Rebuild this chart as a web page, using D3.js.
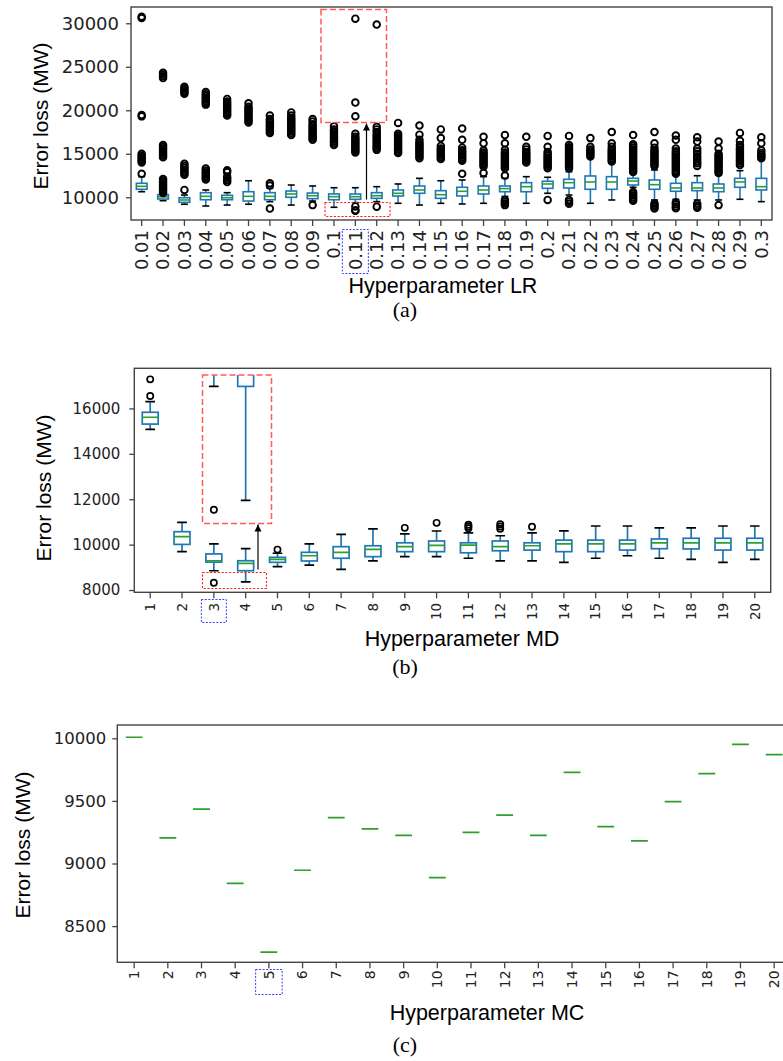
<!DOCTYPE html>
<html>
<head>
<meta charset="utf-8">
<script src="https://cdn.jsdelivr.net/npm/d3@7"></script>
<style>
  body { margin: 0; background: #fff; }
</style>
</head>
<body>
<div id="chart"></div>
<script>
var W = 783, H = 1061;
var BLUE = "#1f77b4", GREEN = "#2ca02c";
var TICK_FONT = "'DejaVu Sans', sans-serif",
    LABEL_FONT = "'Liberation Sans', Arial, sans-serif",
    CAPTION_FONT = "'Liberation Serif', 'Times New Roman', serif";

// ---- (a) learning rate ----
var lrCats = ["0.01","0.02","0.03","0.04","0.05","0.06","0.07","0.08","0.09","0.1",
              "0.11","0.12","0.13","0.14","0.15","0.16","0.17","0.18","0.19","0.2",
              "0.21","0.22","0.23","0.24","0.25","0.26","0.27","0.28","0.29","0.3"];
var lrLo  = [10640, 9610, 9200, 9000, 9110, 9200, 9500, 9110, 9570, 8850, 9380, 9500, 9310, 9110, 9310,
             9230, 9310, 10100, 9310, 10460, 10260, 9310, 9690, 11150, 9690, 9770, 9690, 9690, 9770, 9500];
var lrQ1  = [10920, 9800, 9420, 9720, 9720, 9570, 9720, 10000, 9840, 9720, 9770, 9880, 10150, 10460, 9880,
             10150, 10380, 10640, 10640, 11030, 11070, 10920, 10920, 11410, 10920, 10690, 10760, 10640, 11150, 10840];
var lrMed = [11260, 10050, 9690, 10110, 9950, 10110, 10110, 10380, 10180, 10070, 10070, 10180, 10460, 10840, 10300,
             10690, 10840, 11000, 11220, 11530, 11680, 11760, 11760, 11870, 11450, 11070, 11070, 11070, 11760, 11220];
var lrQ3  = [11610, 10300, 9950, 10530, 10230, 10640, 10530, 10720, 10490, 10380, 10380, 10530, 10840, 11300, 10760,
             11150, 11300, 11300, 11680, 11840, 12070, 12450, 12370, 12180, 11990, 11610, 11680, 11530, 12180, 12180];
var lrHi  = [12370, 10350, 10260, 10840, 10530, 11900, 11030, 11410, 11300, 11100, 11100, 11220, 11530, 12180, 11900,
             11990, 12370, 12180, 12370, 12300, 12940, 14500, 13910, 12760, 13140, 12600, 12480, 12560, 13060, 14290];
var lrOut = [
  [12700, 14000, 14200, 14400, 14600, 14800, 15000, 19300, 19450, 30600, 30750],
  [10500, 10700, 10900, 11100, 11300, 11500, 11700, 11900, 12100, 14600, 14800, 15000, 15200, 15400, 15600, 15800, 16000, 23700, 23900, 24100, 24300],
  [10850, 12600, 12800, 13000, 13200, 13400, 13600, 13850, 21900, 22100, 22300, 22500, 22700],
  [12050, 12250, 12450, 12650, 12850, 13050, 13300, 20650, 20850, 21050, 21250, 21450, 21650, 21850, 22100],
  [11750, 11950, 12150, 12350, 12900, 13100, 19400, 19600, 19800, 20000, 20200, 20400, 20600, 20800, 21000, 21300],
  [18600, 18800, 19000, 19200, 19400, 19600, 19800, 20000, 20200, 20400, 20800],
  [8700, 11350, 11600, 17400, 17600, 17800, 18000, 18200, 18400, 18600, 18800, 19000, 19400],
  [17150, 17350, 17550, 17750, 17950, 18150, 18350, 18550, 18750, 18950, 19150, 19400, 19750],
  [9100, 16600, 16800, 17000, 17200, 17400, 17600, 17800, 18000, 18200, 18400, 18700, 19000],
  [16000, 16200, 16400, 16600, 16800, 17000, 17200, 17400, 17600, 17800, 18150],
  [8450, 8520, 8950, 15150, 15350, 15550, 15750, 15950, 16150, 16350, 16550, 16750, 16950, 17300],
  [8920, 15450, 15650, 15850, 16050, 16250, 16450, 16650, 16850, 17050, 17250, 17500, 17800, 18100],
  [15100, 15300, 15500, 15700, 15900, 16100, 16300, 16500, 16700, 16900, 17100, 17300, 18550],
  [14500, 14700, 14900, 15100, 15300, 15500, 15700, 15900, 16100, 16300, 16600, 17200, 18250],
  [14400, 14600, 14800, 15000, 15200, 15400, 15600, 15900, 16800, 17800],
  [12700, 14200, 14400, 14600, 14800, 15000, 15200, 15400, 15700, 16600, 17900],
  [12800, 13550, 13750, 13950, 14150, 14350, 14550, 14750, 14950, 15150, 15400, 16200, 16950],
  [9100, 9300, 9500, 9700, 12500, 13350, 13550, 13750, 13950, 14150, 14350, 14550, 14750, 14950, 15150, 15450, 16200, 17150],
  [14000, 14200, 14400, 14600, 14800, 15000, 15200, 15500, 15800, 16950],
  [9700, 13350, 13550, 13750, 13950, 14150, 14350, 14550, 14750, 14950, 15200, 15800, 17050],
  [9250, 9500, 9700, 13350, 13550, 13750, 13950, 14150, 14350, 14550, 14750, 14950, 15150, 15350, 15550, 15750, 16000, 17050],
  [14700, 14900, 15100, 15300, 15500, 15800, 16800],
  [14100, 14300, 14500, 14700, 14900, 15100, 15300, 15500, 15800, 16200, 17500],
  [9600, 9800, 10000, 10200, 10400, 10600, 12900, 13100, 13300, 13500, 13700, 13900, 14100, 14300, 14500, 14700, 14900, 15100, 15300, 15500, 15700, 15900, 16100, 17150],
  [8700, 8900, 9100, 9300, 13600, 13800, 14000, 14200, 14400, 14600, 14800, 15000, 15200, 15400, 15700, 16200, 17500],
  [8750, 8950, 9200, 9400, 12700, 12900, 13100, 13300, 13500, 13700, 13900, 14100, 14300, 14500, 14700, 14900, 15100, 15300, 15600, 16600, 17100],
  [8800, 9000, 9250, 13600, 13900, 14100, 14400, 14700, 15000, 15300, 15600, 16400, 16900],
  [9100, 12800, 13000, 13200, 13400, 13600, 13800, 14000, 14200, 14400, 14600, 14800, 15000, 15600, 16400],
  [13700, 13900, 14100, 14300, 14500, 14700, 14900, 15100, 15300, 15500, 15700, 16000, 16500, 17400],
  [14500, 14700, 14900, 15100, 15400, 16200, 16900]
];
var lrTicks = [10000, 15000, 20000, 25000, 30000];
var lrZoomDomain = [8418, 8997];

// ---- (b) max depth ----
var mdCats = ["1","2","3","4","5","6","7","8","9","10","11","12","13","14","15","16","17","18","19","20"];
var mdLo  = [15080, 9690, 8850, 8360, 9030, 9100, 8910, 9280, 9470, 9470, 9400, 9280, 9280, 9220, 9400, 9510, 9400, 9350, 9220, 9350];
var mdQ1  = [15310, 10010, 9230, 8850, 9220, 9280, 9400, 9470, 9690, 9690, 9640, 9730, 9760, 9690, 9690, 9760, 9820, 9810, 9760, 9760];
var mdMed = [15610, 10350, 9290, 9175, 9350, 9510, 9660, 9790, 9910, 9970, 9980, 9910, 9950, 10030, 10030, 10030, 10080, 10080, 10080, 10080];
var mdQ3  = [15830, 10570, 9590, 9290, 9440, 9660, 9910, 9950, 10080, 10160, 10080, 10160, 10080, 10200, 10200, 10200, 10250, 10280, 10280, 10280];
var mdHi  = [16300, 10980, 10030, 9820, 9620, 10030, 10450, 10690, 10470, 10600, 10520, 10390, 10520, 10610, 10820, 10820, 10740, 10740, 10820, 10820];
var mdOut = [[16550, 17280], [], [8320], [], [9780], [], [], [], [10740], [10960], [10720, 10800, 10880],
             [10700, 10800, 10900], [10790], [], [], [], [], [], [], []];
var mdTicks = [8000, 10000, 12000, 14000, 16000];
var mdZoomDomain = [8261, 8899];

// ---- (c) min child ----
var mcCats = ["1","2","3","4","5","6","7","8","9","10","11","12","13","14","15","16","17","18","19","20"];
var mcMed = [10008, 9204, 9435, 8842, 8293, 8946, 9366, 9276, 9225, 8887, 9249, 9387, 9225, 9728, 9294, 9180, 9494, 9717, 9952, 9869];
var mcTicks = [8500, 9000, 9500, 10000];

function zipStats(cats, lo, q1, med, q3, hi, out) {
  return cats.map(function(c, i) {
    return {cat: c, lo: lo[i], q1: q1[i], med: med[i], q3: q3[i], hi: hi[i], out: out[i]};
  });
}

var svg = d3.select("#chart").append("svg")
  .attr("width", W).attr("height", H)
  .style("display", "block");

var defs = svg.append("defs");
defs.append("marker").attr("id", "arrow")
  .attr("viewBox", "0 0 10 10").attr("refX", 10).attr("refY", 5)
  .attr("markerWidth", 7).attr("markerHeight", 8).attr("markerUnits", "userSpaceOnUse")
  .attr("orient", "auto")
  .append("path").attr("d", "M0,0L10,5L0,10z").attr("fill", "#000");

function drawBoxes(g, x, y, data, st, fliersOnly) {
  var bw = x.bandwidth() * 0.5, cw = bw / 2;
  var b = g.selectAll(null).data(data).enter().append("g")
    .attr("transform", function(d) { return "translate(" + (x(d.cat) + x.bandwidth() / 2) + ",0)"; });
  if (!fliersOnly) {
    var wh = b.filter(function(d) { return d.hi > d.q3 || d.lo < d.q1; });
    wh.append("line").attr("y1", function(d) { return y(d.q1); }).attr("y2", function(d) { return y(d.lo); })
      .attr("stroke", BLUE).attr("stroke-width", st.lw);
    wh.append("line").attr("y1", function(d) { return y(d.q3); }).attr("y2", function(d) { return y(d.hi); })
      .attr("stroke", BLUE).attr("stroke-width", st.lw);
    ["lo", "hi"].forEach(function(k) {
      wh.append("line")
        .attr("x1", -cw / 2).attr("x2", cw / 2)
        .attr("y1", function(d) { return y(d[k]); }).attr("y2", function(d) { return y(d[k]); })
        .attr("stroke", "#000").attr("stroke-width", st.lw).attr("stroke-linecap", "square");
    });
    b.append("rect")
      .attr("x", -bw / 2).attr("width", bw)
      .attr("y", function(d) { return y(d.q3); })
      .attr("height", function(d) { return Math.max(0, y(d.q1) - y(d.q3)); })
      .attr("fill", "none").attr("stroke", BLUE).attr("stroke-width", st.lw);
    b.append("line")
      .attr("x1", -bw / 2).attr("x2", bw / 2)
      .attr("y1", function(d) { return y(d.med); }).attr("y2", function(d) { return y(d.med); })
      .attr("stroke", GREEN).attr("stroke-width", st.lw);
  }
  b.selectAll("circle").data(function(d) { return d.out; }).enter().append("circle")
    .attr("cx", 0).attr("cy", function(v) { return y(v); }).attr("r", st.r)
    .attr("fill", "none").attr("stroke", "#000").attr("stroke-width", st.cw);
}

function panel(cfg) {
  var g = svg.append("g");
  var x = d3.scaleBand().domain(cfg.cats).range([cfg.left, cfg.right]);
  var y = d3.scaleLinear().domain(cfg.domain).range([cfg.bottom, cfg.top]);

  defs.append("clipPath").attr("id", "clip" + cfg.id).append("rect")
    .attr("x", cfg.left).attr("y", cfg.top)
    .attr("width", cfg.right - cfg.left).attr("height", cfg.bottom - cfg.top);
  var plot = g.append("g").attr("clip-path", "url(#clip" + cfg.id + ")");
  drawBoxes(plot, x, y, cfg.data, cfg.st, false);

  g.append("rect")
    .attr("x", cfg.left).attr("y", cfg.top)
    .attr("width", cfg.right - cfg.left).attr("height", cfg.bottom - cfg.top)
    .attr("fill", "none").attr("stroke", "#444").attr("stroke-width", 1.4);

  g.append("g").attr("transform", "translate(" + cfg.left + ",0)")
    .call(d3.axisLeft(y).tickValues(cfg.ticks).tickSize(5).tickPadding(cfg.yPad).tickFormat(d3.format("d")))
    .call(function(a) { a.select(".domain").remove(); })
    .attr("color", "#444")
    .call(function(a) {
      a.selectAll("text").attr("font-size", cfg.yFont).attr("font-family", TICK_FONT).attr("fill", "#222");
      a.selectAll("line").attr("stroke-width", 1.3);
    });

  g.append("g").attr("transform", "translate(0," + cfg.bottom + ")")
    .call(d3.axisBottom(x).tickSize(6).tickSizeOuter(0))
    .call(function(a) { a.select(".domain").remove(); })
    .attr("color", "#444")
    .call(function(a) {
      a.selectAll("line").attr("stroke-width", 1.3);
      a.selectAll("text")
        .attr("transform", "rotate(-90)")
        .attr("text-anchor", "end")
        .attr("x", -cfg.xPad).attr("y", 0).attr("dy", "0.35em")
        .attr("font-size", cfg.xFont).attr("font-family", TICK_FONT).attr("fill", "#222");
    });

  g.append("text")
    .attr("transform", "translate(" + cfg.yLab[0] + "," + cfg.yLab[1] + ") rotate(-90)")
    .attr("text-anchor", "middle")
    .attr("font-family", LABEL_FONT).attr("font-size", 21).attr("fill", "#000")
    .text("Error loss (MW)");
  g.append("text")
    .attr("x", cfg.xLab[0]).attr("y", cfg.xLab[1])
    .attr("text-anchor", "middle")
    .attr("font-family", LABEL_FONT).attr("font-size", 21.5).attr("fill", "#000")
    .text(cfg.xTitle);
  g.append("text")
    .attr("x", cfg.cap[0]).attr("y", cfg.cap[1])
    .attr("text-anchor", "middle")
    .attr("font-family", CAPTION_FONT).attr("font-size", 22).attr("fill", "#000")
    .text(cfg.caption);

  // dotted blue frame around the selected tick label
  var cx = x(cfg.best) + x.bandwidth() / 2;
  g.append("rect")
    .attr("x", cx - cfg.bestBox[0] / 2).attr("y", cfg.bestBox[1])
    .attr("width", cfg.bestBox[0]).attr("height", cfg.bestBox[2])
    .attr("fill", "none").attr("stroke", "#3340ff").attr("stroke-width", 1)
    .attr("stroke-dasharray", "2,1.5");

  return {x: x, y: y, g: g, cfg: cfg};
}

function zoomInset(p, src, dst, arrowX, domain, fliersOnly) {
  var g = p.g;
  g.append("rect")
    .attr("x", src[0]).attr("y", src[1]).attr("width", src[2] - src[0]).attr("height", src[3] - src[1])
    .attr("fill", "none").attr("stroke", "#ff2020").attr("stroke-width", 1.1)
    .attr("stroke-dasharray", "2.2,1.6");
  g.append("line")
    .attr("x1", arrowX).attr("x2", arrowX).attr("y1", src[1] - 3).attr("y2", dst[3] + 1)
    .attr("stroke", "#000").attr("stroke-width", 1.2).attr("marker-end", "url(#arrow)");

  var iy = d3.scaleLinear().domain(domain).range([dst[3], dst[1]]);
  var id = "inset" + p.cfg.id;
  defs.append("clipPath").attr("id", id).append("rect")
    .attr("x", dst[0]).attr("y", dst[1]).attr("width", dst[2] - dst[0]).attr("height", dst[3] - dst[1]);
  var ig = g.append("g").attr("clip-path", "url(#" + id + ")");
  ig.append("rect")
    .attr("x", dst[0]).attr("y", dst[1]).attr("width", dst[2] - dst[0]).attr("height", dst[3] - dst[1])
    .attr("fill", "#fff");
  drawBoxes(ig, p.x, iy, p.cfg.data, p.cfg.st, fliersOnly);
  g.append("rect")
    .attr("x", dst[0]).attr("y", dst[1]).attr("width", dst[2] - dst[0]).attr("height", dst[3] - dst[1])
    .attr("fill", "none").attr("stroke", "#ff5a5a").attr("stroke-width", 1.5)
    .attr("stroke-dasharray", "6,3");
}

var pa = panel({
  id: "a", cats: lrCats, data: zipStats(lrCats, lrLo, lrQ1, lrMed, lrQ3, lrHi, lrOut),
  left: 131, right: 772, top: 7, bottom: 220, domain: [7390, 31870], ticks: lrTicks,
  st: {lw: 1.6, r: 3.3, cw: 1.9}, yFont: 18, xFont: 18, yPad: 7, xPad: 10,
  yLab: [48, 116], xLab: [443, 293], xTitle: "Hyperparameter LR",
  cap: [405, 317], caption: "(a)",
  best: "0.11", bestBox: [26, 229.5, 44]
});
zoomInset(pa, [325, 202.5, 390, 216.5], [321, 9.5, 386.5, 122.5], 366.5, lrZoomDomain, true);

var pb = panel({
  id: "b", cats: mdCats, data: zipStats(mdCats, mdLo, mdQ1, mdMed, mdQ3, mdHi, mdOut),
  left: 134.3, right: 770.7, top: 368.3, bottom: 592.3, domain: [7900, 17767], ticks: mdTicks,
  st: {lw: 1.7, r: 3.1, cw: 1.7}, yFont: 15, xFont: 13.5, yPad: 9, xPad: 10.5,
  yLab: [51, 488], xLab: [462, 646], xTitle: "Hyperparameter MD",
  cap: [405, 674], caption: "(b)",
  best: "3", bestBox: [25, 599.5, 23]
});
zoomInset(pb, [202.5, 572.5, 266.5, 588.5], [202.5, 375, 271.5, 523.5], 258, mdZoomDomain, false);

var pc = panel({
  id: "c", cats: mcCats,
  data: zipStats(mcCats, mcMed, mcMed, mcMed, mcMed, mcMed, mcCats.map(function() { return []; })),
  left: 117.3, right: 791, top: 725, bottom: 962.3, domain: [8211, 10106], ticks: mcTicks,
  st: {lw: 1.7, r: 3.1, cw: 1.7}, yFont: 16.5, xFont: 14, yPad: 6, xPad: 8,
  yLab: [30, 845], xLab: [487, 1020], xTitle: "Hyperparameter MC",
  cap: [405, 1052], caption: "(c)",
  best: "5", bestBox: [26.5, 969.5, 25]
});
</script>
</body>
</html>
